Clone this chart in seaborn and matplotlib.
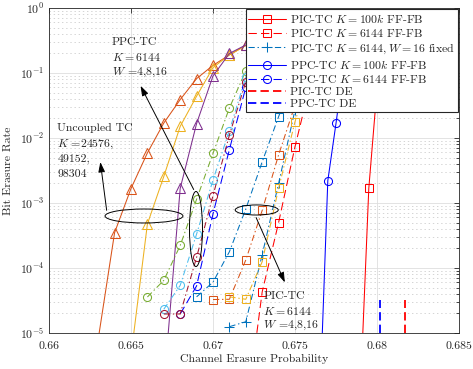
import matplotlib
matplotlib.use("Agg")
import matplotlib.pyplot as plt
import seaborn as sns
from matplotlib.patches import Ellipse

# ---- data ----
# uncoupled turbo codes (triangles, solid)
p_unc_a = [0.663, 0.664, 0.665, 0.666, 0.667, 0.668, 0.669, 0.670, 0.671, 0.672, 0.673]
ber_unc_a = [8e-6, 3.5e-4, 1.67e-3, 5.9e-3, 1.7e-2, 3.9e-2, 8.2e-2, 0.131, 0.19, 0.265, 0.33]
p_unc_b = [0.665, 0.666, 0.667, 0.668, 0.669, 0.670, 0.671, 0.672, 0.673]
ber_unc_b = [4.5e-6, 4.75e-4, 2.56e-3, 1.51e-2, 4.4e-2, 0.121, 0.19, 0.265, 0.33]
p_unc_c = [0.667, 0.668, 0.669, 0.670, 0.671, 0.672, 0.673]
ber_unc_c = [1.5e-6, 1.68e-3, 1.67e-2, 0.09, 0.2, 0.27, 0.33]

# PPC-TC K=6144, W=4,8,16 (circles, dash-dot)
p_ppc_w4 = [0.666, 0.667, 0.668, 0.669, 0.670, 0.671, 0.672, 0.673]
ber_ppc_w4 = [3.58e-5, 6.46e-5, 2.22e-4, 1.14e-3, 5.8e-3, 2.9e-2, 0.108, 0.3]
p_ppc_w8 = [0.667, 0.668, 0.669, 0.670, 0.671, 0.672, 0.673]
ber_ppc_w8 = [2.32e-5, 5.4e-5, 3.33e-4, 2.26e-3, 1.3e-2, 8.7e-2, 0.3]
p_ppc_w16 = [0.667, 0.668, 0.669, 0.670, 0.671, 0.672, 0.673]
ber_ppc_w16 = [1.96e-5, 1.96e-5, 1.46e-4, 1.3e-3, 1.11e-2, 7.35e-2, 0.28]
p_ppc_ffb = [0.668, 0.669, 0.670, 0.671, 0.672, 0.673]
ber_ppc_ffb = [1.96e-5, 5.3e-5, 6.8e-4, 6.65e-3, 6.0e-2, 0.27]

# PIC-TC K=6144, W=4,8,16 (squares, dash-dot)
p_pic_w4 = [0.669, 0.670, 0.671, 0.672, 0.673, 0.674, 0.675]
ber_pic_w4 = [3.6e-5, 6.05e-5, 1.78e-4, 8.1e-4, 4.3e-3, 2.13e-2, 0.1]
p_pic_w8 = [0.670, 0.671, 0.672, 0.673, 0.674, 0.675, 0.676]
ber_pic_w8 = [3.27e-5, 3.3e-5, 1.33e-4, 7.7e-4, 5.5e-3, 3.2e-2, 0.15]
p_pic_w16 = [0.671, 0.672, 0.673, 0.674, 0.675, 0.676]
ber_pic_w16 = [3.6e-5, 3.3e-5, 1.25e-4, 1.68e-3, 1.78e-2, 0.12]
p_pic_ffb = [0.672, 0.673, 0.674, 0.675, 0.676]
ber_pic_ffb = [5e-7, 4.3e-5, 5e-4, 7.35e-3, 8e-2]
p_pic_fixed = [0.671, 0.672, 0.673, 0.674, 0.675]
ber_pic_fixed = [1.25e-5, 1.49e-5, 1.6e-4, 2.0e-3, 2.7e-2]

# K = 100k
p_pic_100k = [0.679, 0.6795, 0.680]
ber_pic_100k = [1.5e-6, 1.68e-3, 0.057]
p_ppc_100k = [0.6765, 0.677, 0.6775, 0.678]
ber_ppc_100k = [7e-7, 2.2e-3, 1.68e-2, 0.146]

# density evolution thresholds
pic_de = 0.6817
ppc_de = 0.6802
de_span = [1e-5, 3.2e-5]

xticks = [0.66, 0.665, 0.67, 0.675, 0.68, 0.685]
xticklabels = ["0.66", "0.665", "0.67", "0.675", "0.68", "0.685"]

# ---- style ----
sns.set_style("white")
plt.rcParams["font.family"] = "serif"
plt.rcParams["font.serif"] = ["cmr10"]
plt.rcParams["mathtext.fontset"] = "cm"
plt.rcParams["axes.formatter.use_mathtext"] = True
plt.rcParams["axes.unicode_minus"] = False
plt.rcParams["lines.scale_dashes"] = False

BLUE = "#0072BD"
ORANGE = "#D95319"
YELLOW = "#EDB120"
PURPLE = "#7E2F8E"
GREEN = "#77AC30"
CYAN = "#4DBEEE"
DRED = "#A2142F"

SOLID = "-"
DASH = (0, (6, 3))
DASHDOT = (0, (4.5, 2, 1, 2))

fig, ax = plt.subplots(figsize=(4.73, 3.69), dpi=100)
fig.subplots_adjust(left=0.1036, right=0.9704, top=0.9783, bottom=0.0976)
ax.set_yscale("log")

handles = []


def curve(x, y, color, ls, marker=None, label=None, lw=0.75, ms=5.8):
    kw = dict(x=x, y=y, color=color, linestyle=ls, lw=lw, ax=ax,
              estimator=None, sort=False, errorbar=None)
    if marker:
        kw.update(marker=marker, markersize=ms, markerfacecolor="none",
                  markeredgecolor=color, markeredgewidth=0.75)
    if label:
        kw["label"] = label
    sns.lineplot(**kw)
    if label:
        handles.append(ax.lines[-1])


# legend series first (legend order)
curve(p_pic_100k, ber_pic_100k, "#FF0000", SOLID, "s", r"PIC-TC $K=100k$ FF-FB", ms=5.3)
curve(p_pic_ffb, ber_pic_ffb, "#FF0000", DASH, "s", r"PIC-TC $K=6144$ FF-FB", ms=5.3)
curve(p_pic_fixed, ber_pic_fixed, BLUE, DASHDOT, "+", r"PIC-TC $K=6144, W=16$ fixed", ms=6.5)
curve(p_ppc_100k, ber_ppc_100k, "#0000FF", SOLID, "o", r"PPC-TC $K=100k$ FF-FB")
curve(p_ppc_ffb, ber_ppc_ffb, "#0000FF", DASH, "o", r"PPC-TC $K=6144$ FF-FB")
curve([pic_de, pic_de], de_span, "#FF0000", DASH, None, "PIC-TC DE", lw=1.3)
curve([ppc_de, ppc_de], de_span, "#0000FF", DASH, None, "PPC-TC DE", lw=1.3)

# remaining series
curve(p_unc_a, ber_unc_a, ORANGE, SOLID, "^", ms=6.5)
curve(p_unc_b, ber_unc_b, YELLOW, SOLID, "^", ms=6.5)
curve(p_unc_c, ber_unc_c, PURPLE, SOLID, "^", ms=6.5)
curve(p_ppc_w4, ber_ppc_w4, GREEN, DASHDOT, "o")
curve(p_ppc_w8, ber_ppc_w8, CYAN, DASHDOT, "o")
curve(p_ppc_w16, ber_ppc_w16, DRED, DASHDOT, "o")
curve(p_pic_w4, ber_pic_w4, BLUE, DASHDOT, "s", ms=5.3)
curve(p_pic_w8, ber_pic_w8, ORANGE, DASHDOT, "s", ms=5.3)
curve(p_pic_w16, ber_pic_w16, YELLOW, DASHDOT, "s", ms=5.3)

# ---- axes ----
ax.set_xlim(0.66, 0.685)
ax.set_ylim(1e-5, 1)
ax.set_xticks(xticks)
ax.set_xticklabels(xticklabels)
ax.set_xlabel("Channel Erasure Probability", fontsize=8.5, color="#262626", labelpad=2)
ax.set_ylabel("Bit Erasure Rate", fontsize=8.5, color="#262626", labelpad=5)
ax.tick_params(which="both", direction="in", top=True, right=True,
               colors="#262626", labelsize=8.5, width=0.6)
ax.tick_params(which="major", length=3.5)
ax.tick_params(which="minor", length=2)
ax.tick_params(axis="x", pad=6)
for s in ax.spines.values():
    s.set_color("#262626")
    s.set_linewidth(0.6)
ax.grid(True, which="major", color="#dedede", lw=0.6)
ax.grid(True, which="minor", axis="y", color="#c4c4c4", lw=0.5, linestyle=(0, (1, 2)))
ax.set_axisbelow(True)

leg = ax.legend(handles=handles, labels=[h.get_label() for h in handles],
                loc="upper right", borderaxespad=0.12, handlelength=3.2,
                handletextpad=0.3, labelspacing=0.17, borderpad=0.25,
                fancybox=False, framealpha=1, edgecolor="#262626", fontsize=8.5)
leg.get_frame().set_linewidth(0.8)

# ---- annotations (axes fraction) ----
for cx, cy, w, h in [(0.2317, 0.36, 0.190, 0.043),
                     (0.3585, 0.32, 0.0317, 0.231),
                     (0.5066, 0.3785, 0.105, 0.031)]:
    ax.add_patch(Ellipse((cx, cy), w, h, transform=ax.transAxes,
                         fill=False, ec="black", lw=0.7, zorder=5))

arrow = dict(arrowstyle="-|>,head_length=0.6,head_width=0.2", color="black", lw=0.7)
for tail, head in [((0.1415, 0.369), (0.1244, 0.5345)),
                   ((0.356, 0.4338), (0.2202, 0.7682)),
                   ((0.5024, 0.363), (0.578, 0.1477))]:
    ax.annotate("", xy=head, xytext=tail, xycoords="axes fraction",
                textcoords="axes fraction", arrowprops=arrow, zorder=5)

txt = dict(transform=ax.transAxes, fontsize=8.5, va="center", ha="left", zorder=6)
for s, y in [("PPC-TC", 0.8954), (r"$K=6144$", 0.849), (r"$W$ =4,8,16", 0.803)]:
    ax.text(0.1537, y, s, **txt)
for s, y in [("Uncoupled TC", 0.630), (r"$K$ =24576,", 0.581), ("49152,", 0.5345), ("98304", 0.4892)]:
    ax.text(0.0203, y, s, **txt)
for s, y in [("PIC-TC", 0.1138), (r"$K=6144$", 0.0686), (r"$W$ =4,8,16", 0.0225)]:
    ax.text(0.5227, y, s, **txt)

fig.savefig("out.png", dpi=100)
